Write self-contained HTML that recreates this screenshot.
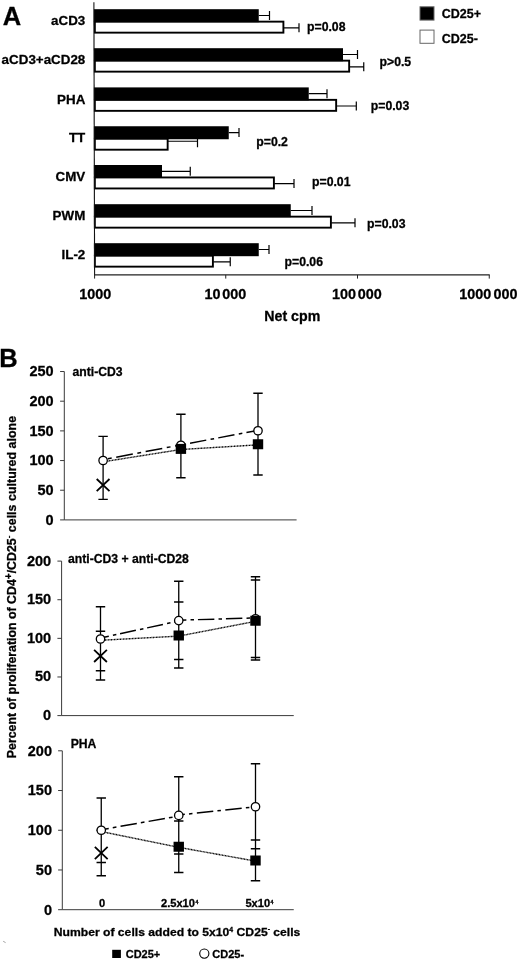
<!DOCTYPE html>
<html lang="en"><head><meta charset="utf-8"><title>Figure</title>
<style>html,body{margin:0;padding:0;background:#fff;}body{width:520px;height:960px;overflow:hidden;}svg{display:block;}text{font-family:"Liberation Sans", sans-serif;font-weight:bold;fill:#000;stroke:#000;stroke-width:0.28px;}</style></head><body>
<svg width="520" height="960" viewBox="0 0 520 960">
<rect width="520" height="960" fill="#fff"/>
<text x="2.8" y="25" font-size="25.5" stroke="#000" stroke-width="0.5">A</text>
<text transform="translate(85.3 25.40) scale(1.03 1)" font-size="13" text-anchor="end">aCD3</text>
<rect x="94.85" y="21.65" width="188.55" height="11.00" fill="#fff" stroke="#000" stroke-width="1.9"/>
<rect x="93.90" y="9.20" width="164.85" height="13.00" fill="#000"/>
<path d="M258.75 15.50H270.00M269.50 11.00V20.00" stroke="#000" stroke-width="1.2" fill="none"/>
<path d="M283.75 27.80H299.50M299.00 23.30V32.30" stroke="#000" stroke-width="1.2" fill="none"/>
<text transform="translate(85.3 64.40) scale(1.03 1)" font-size="13" text-anchor="end">aCD3+aCD28</text>
<rect x="94.85" y="60.65" width="254.30" height="11.00" fill="#fff" stroke="#000" stroke-width="1.9"/>
<rect x="93.90" y="48.20" width="249.10" height="13.00" fill="#000"/>
<path d="M343.00 54.50H358.00M357.50 50.00V59.00" stroke="#000" stroke-width="1.2" fill="none"/>
<path d="M349.50 66.80H364.25M363.75 62.30V71.30" stroke="#000" stroke-width="1.2" fill="none"/>
<text transform="translate(85.3 103.60) scale(1.03 1)" font-size="13" text-anchor="end">PHA</text>
<rect x="94.85" y="99.85" width="241.30" height="11.00" fill="#fff" stroke="#000" stroke-width="1.9"/>
<rect x="93.90" y="87.40" width="214.85" height="13.00" fill="#000"/>
<path d="M308.75 93.70H327.50M327.00 89.20V98.20" stroke="#000" stroke-width="1.2" fill="none"/>
<path d="M336.50 106.00H356.80M356.30 101.50V110.50" stroke="#000" stroke-width="1.2" fill="none"/>
<text transform="translate(85.3 142.45) scale(1.03 1)" font-size="13" text-anchor="end">TT</text>
<rect x="94.85" y="138.70" width="72.80" height="11.00" fill="#fff" stroke="#000" stroke-width="1.9"/>
<rect x="93.90" y="126.25" width="134.85" height="13.00" fill="#000"/>
<path d="M228.75 132.55H239.50M239.00 128.05V137.05" stroke="#000" stroke-width="1.2" fill="none"/>
<path d="M168.00 141.25H198.00M197.50 138.15V147.15" stroke="#000" stroke-width="1.2" fill="none"/>
<text transform="translate(85.3 181.20) scale(1.03 1)" font-size="13" text-anchor="end">CMV</text>
<rect x="94.85" y="177.45" width="179.05" height="11.00" fill="#fff" stroke="#000" stroke-width="1.9"/>
<rect x="93.90" y="165.00" width="68.10" height="13.00" fill="#000"/>
<path d="M162.00 171.30H190.75M190.25 166.80V175.80" stroke="#000" stroke-width="1.2" fill="none"/>
<path d="M274.25 183.60H294.50M294.00 179.10V188.10" stroke="#000" stroke-width="1.2" fill="none"/>
<text transform="translate(85.3 220.40) scale(1.03 1)" font-size="13" text-anchor="end">PWM</text>
<rect x="94.85" y="216.65" width="236.05" height="11.00" fill="#fff" stroke="#000" stroke-width="1.9"/>
<rect x="93.90" y="204.20" width="196.85" height="13.00" fill="#000"/>
<path d="M290.75 210.50H312.50M312.00 206.00V215.00" stroke="#000" stroke-width="1.2" fill="none"/>
<path d="M331.25 222.80H355.50M355.00 218.30V227.30" stroke="#000" stroke-width="1.2" fill="none"/>
<text transform="translate(85.3 259.40) scale(1.03 1)" font-size="13" text-anchor="end">IL-2</text>
<rect x="94.85" y="255.65" width="118.05" height="11.00" fill="#fff" stroke="#000" stroke-width="1.9"/>
<rect x="93.90" y="243.20" width="164.85" height="13.00" fill="#000"/>
<path d="M258.75 249.50H269.50M269.00 245.00V254.00" stroke="#000" stroke-width="1.2" fill="none"/>
<path d="M213.25 261.80H230.75M230.25 257.30V266.30" stroke="#000" stroke-width="1.2" fill="none"/>
<path d="M93.9 2.2L94.6 275" stroke="#111" stroke-width="1.1" fill="none"/>
<path d="M94 274.9H489.7" stroke="#222" stroke-width="1.1" fill="none"/>
<path d="M94.60 274.9V278.6" stroke="#222" stroke-width="1" fill="none"/>
<path d="M225.75 274.9V278.6" stroke="#222" stroke-width="1" fill="none"/>
<path d="M357.50 274.9V278.6" stroke="#222" stroke-width="1" fill="none"/>
<path d="M489.25 274.9V278.6" stroke="#222" stroke-width="1" fill="none"/>
<text x="95.3" y="299.4" font-size="14.4" text-anchor="middle" stroke="#000" stroke-width="0.3">1000</text>
<text x="204.6" y="299.4" font-size="14.4" stroke="#000" stroke-width="0.3">10<tspan dx="1.6">000</tspan></text>
<text x="332" y="299.4" font-size="14.4" stroke="#000" stroke-width="0.3">100<tspan dx="1.8">000</tspan></text>
<text x="459.3" y="299.4" font-size="14.4" stroke="#000" stroke-width="0.3">1000<tspan dx="2.2">000</tspan></text>
<text x="264.3" y="320.7" font-size="14.2" stroke="#000" stroke-width="0.3">Net cpm</text>
<text x="307.00" y="31.20" font-size="12.25">p=0.08</text>
<text x="379.50" y="66.40" font-size="12.25">p&gt;0.5</text>
<text x="370.75" y="109.60" font-size="12.25">p=0.03</text>
<text x="256.25" y="146.30" font-size="12.25">p=0.2</text>
<text x="312.00" y="186.30" font-size="12.25">p=0.01</text>
<text x="367.00" y="227.60" font-size="12.25">p=0.03</text>
<text x="284.50" y="266.30" font-size="12.25">p=0.06</text>
<rect x="420" y="6.8" width="14" height="13.3" fill="#000" stroke="#666" stroke-width="1"/>
<rect x="420" y="30.1" width="14" height="13.2" fill="#fff" stroke="#666" stroke-width="1"/>
<text x="441.8" y="17.8" font-size="12.5">CD25+</text>
<text x="441.8" y="43.3" font-size="12.5">CD25-</text>
<text x="-0.7" y="366.7" font-size="25.5" stroke="#000" stroke-width="0.5">B</text>
<path d="M64.30 371.52V519.90H296.60" stroke="#3a3a3a" stroke-width="1" fill="none"/>
<path d="M60.10 519.90H64.30" stroke="#3a3a3a" stroke-width="1" fill="none"/>
<text x="53.70" y="524.70" font-size="14.5" text-anchor="end">0</text>
<path d="M60.10 490.22H64.30" stroke="#3a3a3a" stroke-width="1" fill="none"/>
<text x="53.70" y="495.02" font-size="14.5" text-anchor="end">50</text>
<path d="M60.10 460.55H64.30" stroke="#3a3a3a" stroke-width="1" fill="none"/>
<text x="53.70" y="465.35" font-size="14.5" text-anchor="end">100</text>
<path d="M60.10 430.88H64.30" stroke="#3a3a3a" stroke-width="1" fill="none"/>
<text x="53.70" y="435.68" font-size="14.5" text-anchor="end">150</text>
<path d="M60.10 401.20H64.30" stroke="#3a3a3a" stroke-width="1" fill="none"/>
<text x="53.70" y="406.00" font-size="14.5" text-anchor="end">200</text>
<path d="M60.10 371.52H64.30" stroke="#3a3a3a" stroke-width="1" fill="none"/>
<text x="53.70" y="376.32" font-size="14.5" text-anchor="end">250</text>
<text x="72.50" y="375.50" font-size="12.2">anti-CD3</text>
<path d="M103.10 436.40V499.30M98.40 436.40H107.80M98.40 499.30H107.80" stroke="#000" stroke-width="1.3" fill="none"/>
<path d="M180.90 414.25V477.75M176.20 414.25H185.60M176.20 477.75H185.60" stroke="#000" stroke-width="1.3" fill="none"/>
<path d="M258.00 393.25V475.00M253.30 393.25H262.70M253.30 475.00H262.70" stroke="#000" stroke-width="1.3" fill="none"/>
<path d="M103.10 459.70L180.90 444.90" stroke="#000" stroke-width="1.5" stroke-dasharray="16.9 4.6 3.85 4.6" stroke-dashoffset="16.6" fill="none"/>
<path d="M180.90 444.90L258.00 430.40" stroke="#000" stroke-width="1.5" stroke-dasharray="16.5 4.4 3.6 4.2" stroke-dashoffset="19.4" fill="none"/>
<path d="M103.10 461.80 L180.90 449.50 L258.00 444.85" stroke="#000" stroke-width="1.4" stroke-dasharray="1 0.5" fill="none"/>
<circle cx="103.10" cy="460.50" r="4.2" fill="#fff" stroke="#000" stroke-width="1.3"/>
<circle cx="180.90" cy="445.30" r="4.2" fill="#fff" stroke="#000" stroke-width="1.3"/>
<circle cx="258.00" cy="430.75" r="4.2" fill="#fff" stroke="#000" stroke-width="1.3"/>
<rect x="175.70" y="443.90" width="10.4" height="10" fill="#000"/>
<rect x="252.80" y="439.25" width="10.4" height="10" fill="#000"/>
<path d="M96.70 479.00L109.50 491.20M96.70 491.20L109.50 479.00" stroke="#000" stroke-width="1.8" fill="none"/>
<path d="M61.60 561.10V715.60H293.75" stroke="#3a3a3a" stroke-width="1" fill="none"/>
<path d="M57.40 715.60H61.60" stroke="#3a3a3a" stroke-width="1" fill="none"/>
<text x="51.10" y="720.10" font-size="14.5" text-anchor="end">0</text>
<path d="M57.40 676.98H61.60" stroke="#3a3a3a" stroke-width="1" fill="none"/>
<text x="51.10" y="681.48" font-size="14.5" text-anchor="end">50</text>
<path d="M57.40 638.35H61.60" stroke="#3a3a3a" stroke-width="1" fill="none"/>
<text x="51.10" y="642.85" font-size="14.5" text-anchor="end">100</text>
<path d="M57.40 599.73H61.60" stroke="#3a3a3a" stroke-width="1" fill="none"/>
<text x="51.10" y="604.23" font-size="14.5" text-anchor="end">150</text>
<path d="M57.40 561.10H61.60" stroke="#3a3a3a" stroke-width="1" fill="none"/>
<text x="51.10" y="565.60" font-size="14.5" text-anchor="end">200</text>
<text x="68.00" y="563.30" font-size="12.2">anti-CD3 + anti-CD28</text>
<path d="M100.50 606.75V680.00M95.80 606.75H105.20M95.80 670.75H105.20M95.80 631.25H105.20M95.80 680.00H105.20" stroke="#000" stroke-width="1.3" fill="none"/>
<path d="M178.75 581.25V668.00M174.05 581.25H183.45M174.05 659.50H183.45M174.05 602.00H183.45M174.05 668.00H183.45" stroke="#000" stroke-width="1.3" fill="none"/>
<path d="M255.50 576.75V660.00M250.80 580.00H260.20M250.80 657.50H260.20M250.80 576.75H260.20M250.80 660.00H260.20" stroke="#000" stroke-width="1.3" fill="none"/>
<path d="M100.50 638.00L178.75 621.00" stroke="#000" stroke-width="1.5" stroke-dasharray="16.2 4.2 3.5 3.8" stroke-dashoffset="7.7" fill="none"/>
<path d="M178.75 620.20L255.50 617.90" stroke="#000" stroke-width="1.5" stroke-dasharray="16.4 4.2 3.5 3.9" stroke-dashoffset="8.8" fill="none"/>
<path d="M100.50 640.30 L178.75 636.10 L255.50 621.35" stroke="#000" stroke-width="1.4" stroke-dasharray="1 0.5" fill="none"/>
<circle cx="100.50" cy="639.00" r="4.2" fill="#fff" stroke="#000" stroke-width="1.3"/>
<circle cx="178.75" cy="620.60" r="4.2" fill="#fff" stroke="#000" stroke-width="1.3"/>
<circle cx="255.50" cy="618.75" r="4.2" fill="#fff" stroke="#000" stroke-width="1.3"/>
<rect x="173.55" y="630.50" width="10.4" height="10" fill="#000"/>
<rect x="250.30" y="615.75" width="10.4" height="10" fill="#000"/>
<path d="M94.10 649.80L106.90 662.00M94.10 662.00L106.90 649.80" stroke="#000" stroke-width="1.8" fill="none"/>
<path d="M62.30 750.80V909.70H293.75" stroke="#3a3a3a" stroke-width="1" fill="none"/>
<path d="M58.10 909.70H62.30" stroke="#3a3a3a" stroke-width="1" fill="none"/>
<text x="52.00" y="914.50" font-size="14.5" text-anchor="end">0</text>
<path d="M58.10 869.98H62.30" stroke="#3a3a3a" stroke-width="1" fill="none"/>
<text x="52.00" y="874.77" font-size="14.5" text-anchor="end">50</text>
<path d="M58.10 830.25H62.30" stroke="#3a3a3a" stroke-width="1" fill="none"/>
<text x="52.00" y="835.05" font-size="14.5" text-anchor="end">100</text>
<path d="M58.10 790.53H62.30" stroke="#3a3a3a" stroke-width="1" fill="none"/>
<text x="52.00" y="795.33" font-size="14.5" text-anchor="end">150</text>
<path d="M58.10 750.80H62.30" stroke="#3a3a3a" stroke-width="1" fill="none"/>
<text x="52.00" y="755.60" font-size="14.5" text-anchor="end">200</text>
<text x="70.70" y="748.20" font-size="12.2">PHA</text>
<path d="M101.25 798.00V875.75M96.55 798.00H105.95M96.55 862.50H105.95M96.55 830.25H105.95M96.55 875.75H105.95" stroke="#000" stroke-width="1.3" fill="none"/>
<path d="M178.75 776.75V872.50M174.05 776.75H183.45M174.05 854.00H183.45M174.05 821.00H183.45M174.05 872.50H183.45" stroke="#000" stroke-width="1.3" fill="none"/>
<path d="M255.50 763.75V880.75M250.80 763.75H260.20M250.80 848.75H260.20M250.80 840.00H260.20M250.80 880.75H260.20" stroke="#000" stroke-width="1.3" fill="none"/>
<path d="M101.25 829.70L178.75 816.10" stroke="#000" stroke-width="1.5" stroke-dasharray="16.5 4.1 3.7 4.2" stroke-dashoffset="8.9" fill="none"/>
<path d="M178.75 815.00L255.50 806.80" stroke="#000" stroke-width="1.5" stroke-dasharray="16.5 4.2 3.5 4.4" stroke-dashoffset="10.4" fill="none"/>
<path d="M101.25 831.55 L178.75 847.35 L255.50 861.10" stroke="#000" stroke-width="1.4" stroke-dasharray="1 0.5" fill="none"/>
<circle cx="101.25" cy="830.25" r="4.2" fill="#fff" stroke="#000" stroke-width="1.3"/>
<circle cx="178.75" cy="815.40" r="4.2" fill="#fff" stroke="#000" stroke-width="1.3"/>
<circle cx="255.50" cy="806.75" r="4.2" fill="#fff" stroke="#000" stroke-width="1.3"/>
<rect x="173.55" y="841.75" width="10.4" height="10" fill="#000"/>
<rect x="250.30" y="855.50" width="10.4" height="10" fill="#000"/>
<path d="M94.85 846.90L107.65 859.10M94.85 859.10L107.65 846.90" stroke="#000" stroke-width="1.8" fill="none"/>
<text transform="translate(99.0 907.4) scale(1.11 1)" font-size="10" stroke="#000" stroke-width="0.25">0</text>
<text transform="translate(161.0 907.4) scale(1.11 1)" font-size="10" stroke="#000" stroke-width="0.25">2.5x10<tspan font-size="4.6" dx="0.5" dy="-3.6">4</tspan></text>
<text transform="translate(245.4 907.3) scale(1.11 1)" font-size="10" stroke="#000" stroke-width="0.25">5x10<tspan font-size="4.6" dx="0.5" dy="-3.6">4</tspan></text>
<text transform="translate(53.7 935.9) scale(1.058 1)" font-size="11.5" stroke="#000" stroke-width="0.3">Number of cells added to 5x10<tspan font-size="6.5" dy="-4">4</tspan><tspan dy="4"> CD25</tspan><tspan font-size="6.5" dy="-4.5">-</tspan><tspan dy="4.5"> cells</tspan></text>
<rect x="112.2" y="949.8" width="8.7" height="8.2" fill="#000"/>
<text x="125.7" y="958" font-size="11" stroke="#000" stroke-width="0.25">CD25+</text>
<circle cx="204.3" cy="953.6" r="4.6" fill="#fff" stroke="#000" stroke-width="1.1"/>
<text x="212.3" y="957.7" font-size="11" stroke="#000" stroke-width="0.25">CD25-</text>
<path d="M3.2 941.3L5.6 942.6" stroke="#999" stroke-width="0.9" fill="none"/>
<text transform="translate(16.2 758.2) rotate(-90)" font-size="12.35" stroke="#000" stroke-width="0.3">Percent of proliferation of CD4<tspan font-size="10" dy="-4.6">+</tspan><tspan dy="4.6">/CD25</tspan><tspan font-size="8" dy="-5.2">-</tspan><tspan dy="5.2" letter-spacing="0.05"> cells cultured alone</tspan></text>
</svg></body></html>
